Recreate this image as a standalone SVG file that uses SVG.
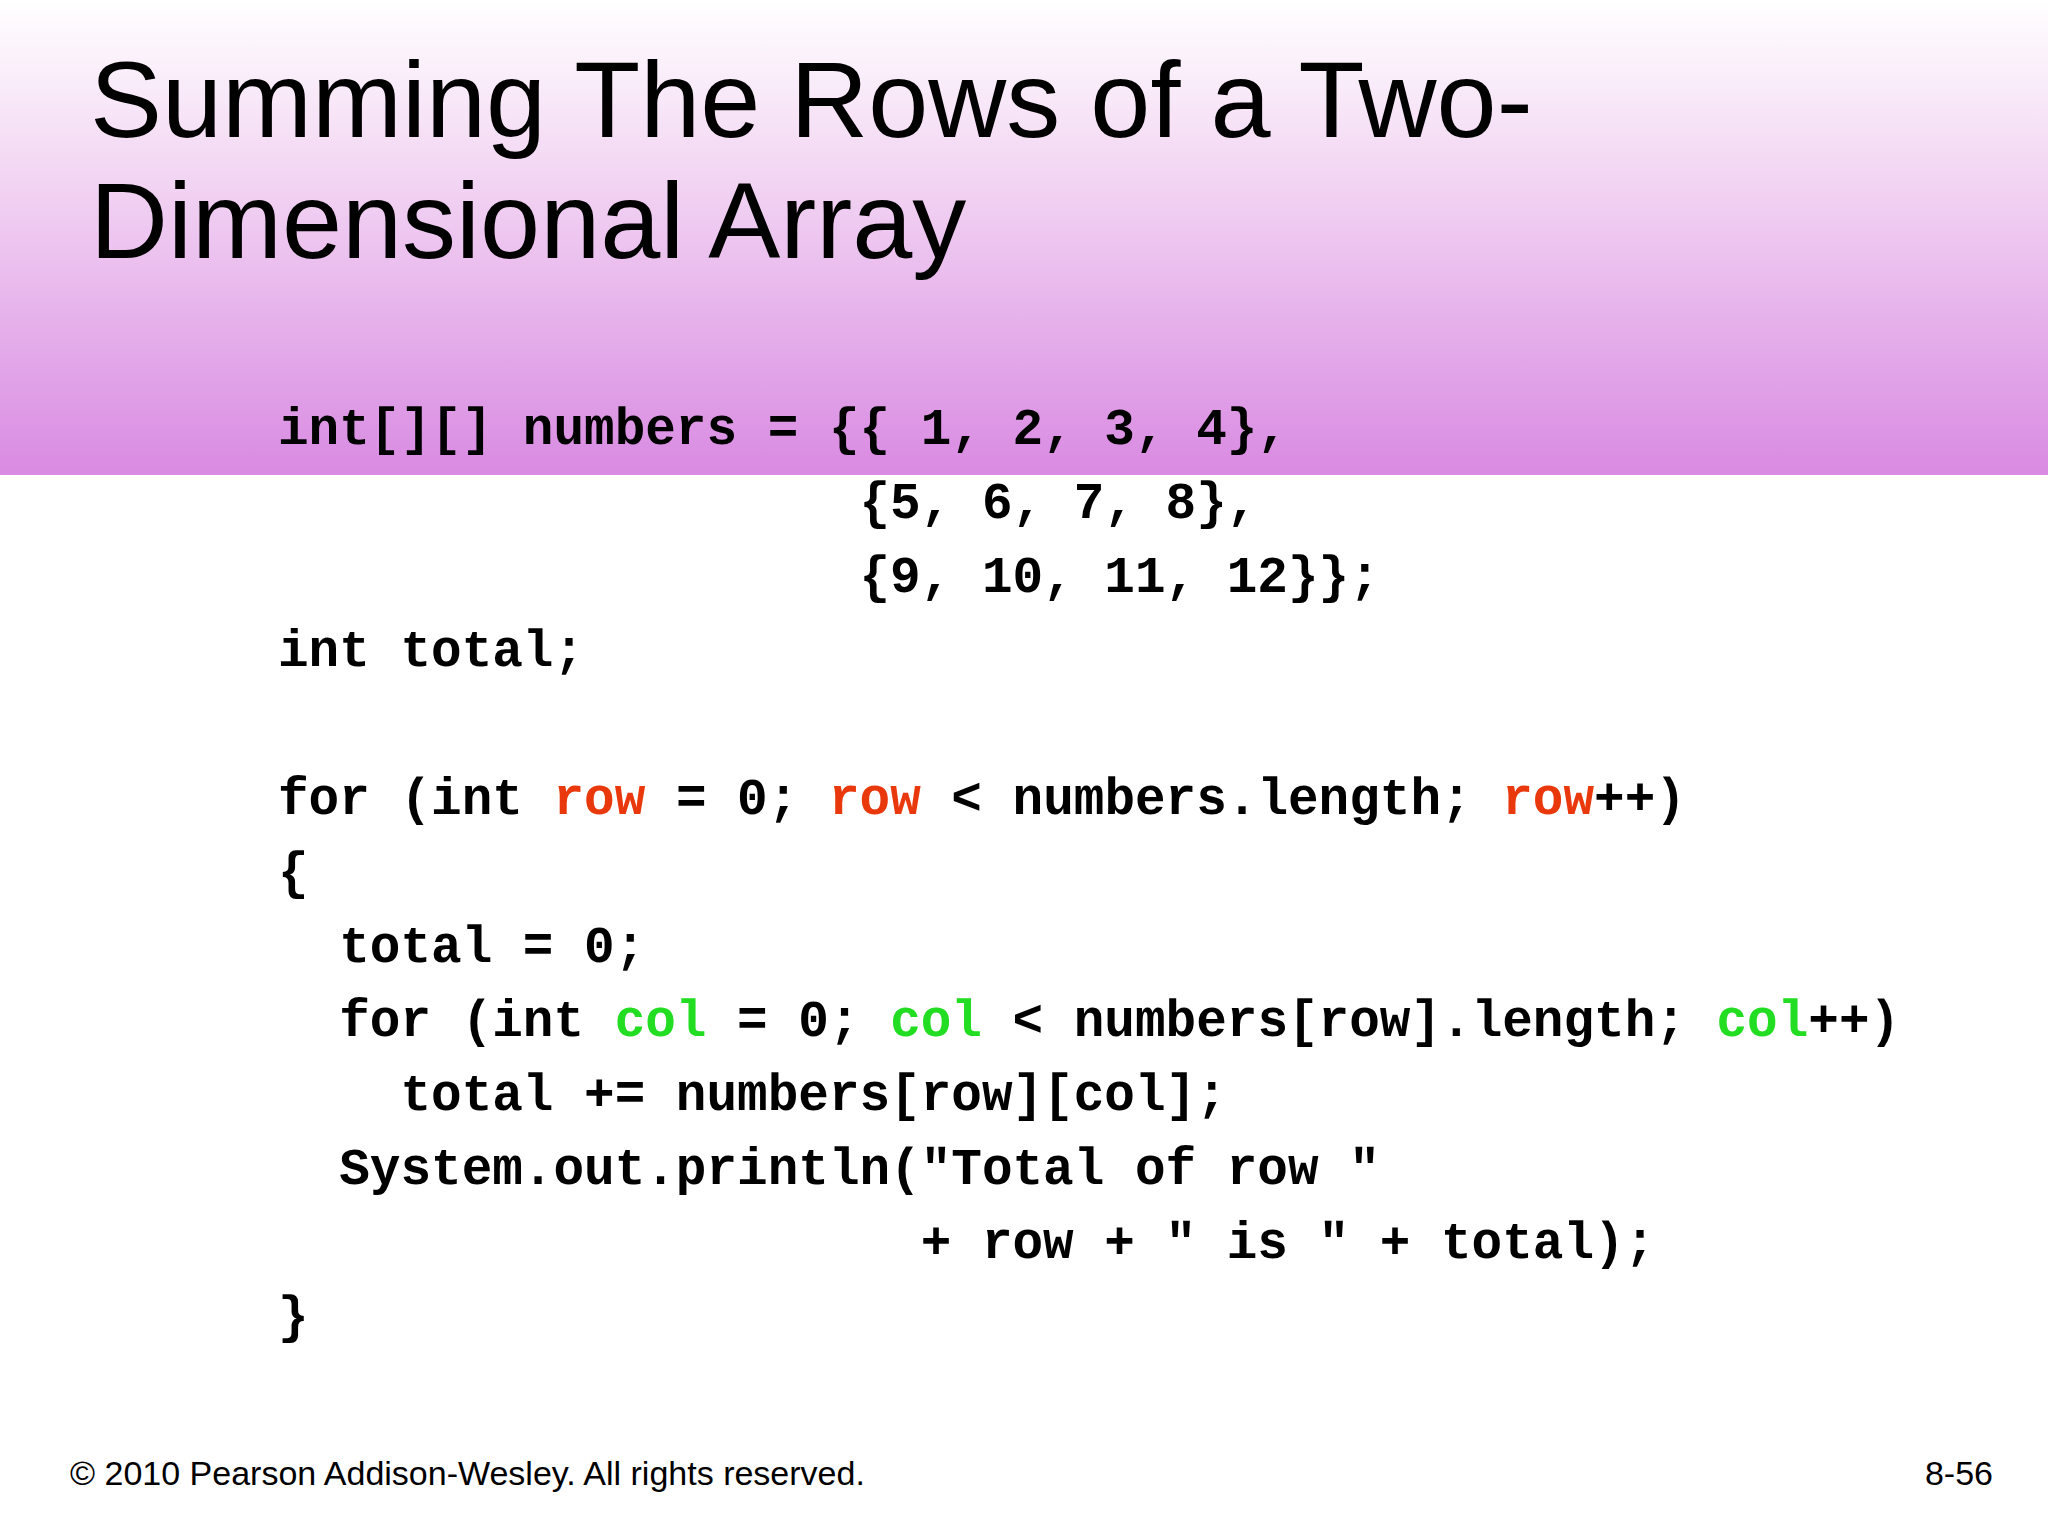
<svg xmlns="http://www.w3.org/2000/svg" width="2048" height="1536" viewBox="0 0 2048 1536">
<defs>
<linearGradient id="hdr" x1="0" y1="0" x2="0" y2="1">
<stop offset="0" stop-color="#ffffff"/>
<stop offset="0.3" stop-color="#f5def5"/>
<stop offset="1" stop-color="#d98ae2"/>
</linearGradient>
<style>
.t{font-family:"Liberation Sans",Arial,sans-serif;font-size:108px;fill:#000}
.c{font-family:"Liberation Mono","Courier New",monospace;font-weight:bold;font-size:51px;fill:#000;white-space:pre}
.r{fill:#e8380c}
.g{fill:#22dd22}
.f{font-family:"Liberation Sans",Arial,sans-serif;font-size:34px;fill:#000}
</style>
</defs>
<rect width="2048" height="1536" fill="#fff"/>
<rect width="2048" height="475" fill="url(#hdr)"/>
<g id="title">
<text class="t" x="90" y="137">Summing The Rows of a Two-</text>
<text class="t" x="90" y="258">Dimensional Array</text>
</g>
<g id="code" xml:space="preserve">
<text class="c" x="278" y="444">int[][] numbers = {{ 1, 2, 3, 4},</text>
<text class="c" x="278" y="518">                   {5, 6, 7, 8},</text>
<text class="c" x="278" y="592">                   {9, 10, 11, 12}};</text>
<text class="c" x="278" y="666">int total;</text>
<text class="c" x="278" y="814">for (int <tspan class="r">row</tspan> = 0; <tspan class="r">row</tspan> &lt; numbers.length; <tspan class="r">row</tspan>++)</text>
<text class="c" x="278" y="888">{</text>
<text class="c" x="278" y="962">  total = 0;</text>
<text class="c" x="278" y="1036">  for (int <tspan class="g">col</tspan> = 0; <tspan class="g">col</tspan> &lt; numbers[row].length; <tspan class="g">col</tspan>++)</text>
<text class="c" x="278" y="1110">    total += numbers[row][col];</text>
<text class="c" x="278" y="1184">  System.out.println("Total of row "</text>
<text class="c" x="278" y="1258">                     + row + " is " + total);</text>
<text class="c" x="278" y="1332">}</text>
</g>
<g id="footer">
<text class="f" x="70" y="1485">© 2010 Pearson Addison-Wesley. All rights reserved.</text>
<text class="f" x="1993" y="1485" text-anchor="end">8-56</text>
</g>
</svg>
